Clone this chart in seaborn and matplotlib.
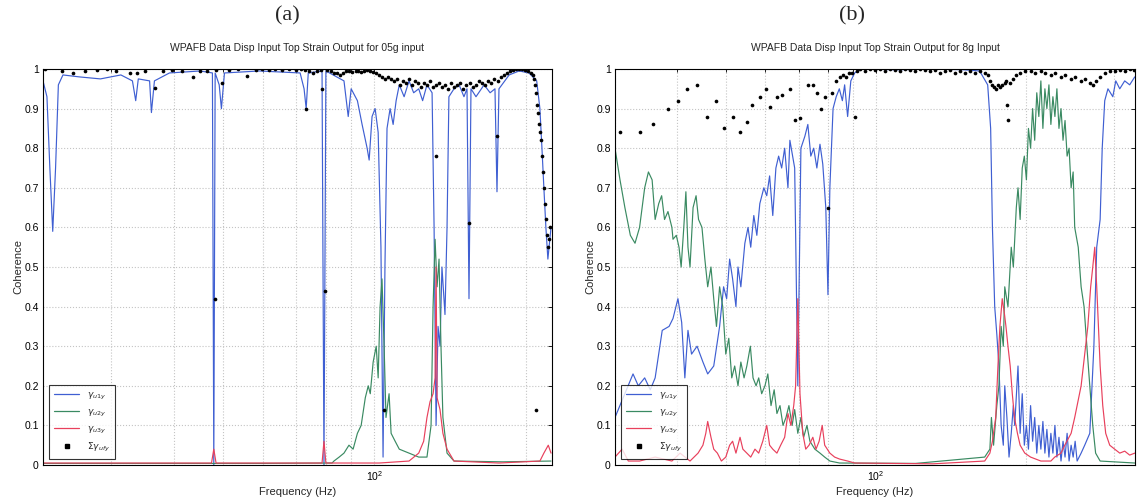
import matplotlib
matplotlib.use("Agg")
import matplotlib.pyplot as plt
from matplotlib.ticker import LogLocator, NullFormatter, FixedLocator
from matplotlib.lines import Line2D
import numpy as np
import pandas as pd
import seaborn as sns

sns.set_theme(style="white")
plt.rcParams["font.family"] = ["Liberation Sans", "DejaVu Sans"]
plt.rcParams["mathtext.fontset"] = "dejavusans"

# ---------------- panel (a): 05g input ----------------
a_u1y_f = [22.0, 22.4, 22.7, 23.0, 23.3, 23.6, 24.1, 26.0, 28.6, 31.4, 33.1, 33.6, 34.0, 35.8, 36.1,
           36.6, 39.2, 45.1, 47.7, 48.0, 48.3, 49.2, 49.7, 50.4, 59.1, 71.2, 72.5, 73.2, 73.9, 78.7,
           79.4, 80.1, 87.0, 88.7, 89.9, 92.5, 94.5, 96.7, 97.6, 98.9, 100.3, 101.7, 103.0, 104.0,
           104.9, 105.9, 107.4, 108.9, 110.4, 112.0, 114.5, 117.1, 119.6, 122.4, 124.6, 127.1, 130.1,
           131.3, 132.5, 133.7, 134.9, 136.1, 138.0, 139.3, 140.5, 143.8, 147.2, 150.5, 152.6, 154.0,
           155.4, 159.0, 165.0, 169.6, 173.4, 175.0, 176.6, 185.0, 193.6, 202.6, 209.8, 212.9, 214.9,
           216.8, 218.8, 220.8, 224.0]
a_u1y_c = [0.97, 0.93, 0.75, 0.59, 0.75, 0.96, 0.985, 0.98, 0.975, 0.985, 0.97, 0.92, 0.975, 0.97, 0.89,
           0.97, 0.99, 0.995, 0.99, 0.0, 0.99, 0.96, 0.90, 0.99, 0.995, 0.99, 0.95, 0.90, 0.99, 0.995,
           0.0, 0.995, 0.97, 0.88, 0.95, 0.92, 0.86, 0.80, 0.77, 0.88, 0.90, 0.84, 0.55, 0.02,
           0.50, 0.85, 0.90, 0.86, 0.92, 0.96, 0.93, 0.97, 0.94, 0.95, 0.92, 0.96, 0.94,
           0.60, 0.10, 0.35, 0.30, 0.50, 0.38, 0.60, 0.93, 0.95, 0.96, 0.93, 0.95, 0.42,
           0.95, 0.93, 0.96, 0.94, 0.95, 0.69, 0.95, 0.985, 0.995, 0.99, 0.97, 0.90, 0.80,
           0.70, 0.60, 0.52, 0.60]

a_u2y_f = [22.0, 60.0, 82.4, 83.1, 85.1, 87.0, 89.0, 90.7, 92.5, 94.1, 95.9, 97.2, 98.1, 99.4, 100.8,
           101.7, 102.6, 103.5, 104.5, 105.4, 106.9, 107.9, 109.9, 112.0, 117.1, 122.4, 127.1, 129.5,
           130.7, 131.9, 133.1, 134.3, 135.5, 136.7, 139.3, 143.8, 180.0, 224.0]
a_u2y_c = [0.004, 0.004, 0.005, 0.01, 0.02, 0.03, 0.05, 0.04, 0.08, 0.10, 0.17, 0.20, 0.18, 0.26, 0.30,
           0.22, 0.40, 0.47, 0.30, 0.12, 0.18, 0.08, 0.06, 0.04, 0.03, 0.02, 0.02, 0.10,
           0.40, 0.57, 0.45, 0.52, 0.30, 0.12, 0.03, 0.01, 0.008, 0.01]

a_u3y_f = [22.0, 47.5, 48.0, 48.5, 78.7, 79.4, 80.1, 102.2, 117.1, 122.4, 125.2, 127.1, 128.9, 130.7,
           131.9, 132.5, 133.1, 134.9, 136.7, 139.3, 143.8, 176.6, 212.9, 216.8, 221.2, 224.0]
a_u3y_c = [0.005, 0.005, 0.04, 0.005, 0.005, 0.06, 0.005, 0.005, 0.01, 0.03, 0.06, 0.12, 0.16, 0.18,
           0.22, 0.50, 0.17, 0.14, 0.08, 0.04, 0.01, 0.005, 0.01, 0.03, 0.05, 0.03]

a_sum_f = [22.2, 24.0, 25.2, 26.6, 28.1, 29.5, 30.7, 32.7, 33.8, 35.0, 36.7, 38.0, 39.7, 41.6, 43.7,
           45.1, 46.6, 48.3, 48.5, 49.9, 51.5, 53.6, 55.8, 58.1, 59.9, 61.7, 63.5, 65.6, 67.7, 69.8,
           71.6, 72.9, 73.2, 74.2, 75.6, 77.0, 78.4, 78.7, 79.8, 80.5, 82.0, 83.1, 84.2, 85.4, 86.7,
           88.0, 89.0, 90.3, 91.8, 92.8, 94.1, 95.4, 96.7, 98.1, 99.4, 100.8, 102.2, 103.5, 104.5,
           104.9, 106.4, 107.9, 109.4, 110.9, 112.5, 114.0, 115.6, 117.1, 118.7, 120.4, 122.0, 123.8,
           125.2, 127.1, 128.9, 130.7, 132.5, 132.5, 134.3, 136.1, 138.0, 139.9, 141.8, 143.8, 145.9,
           147.9, 149.9, 152.0, 154.0, 154.7, 156.8, 159.0, 161.2, 163.4, 165.7, 167.8, 170.3, 172.7,
           175.0, 175.8, 178.2, 180.6, 183.1, 185.6, 188.2, 190.8, 193.6, 196.2, 198.9, 201.7, 204.6,
           206.3, 207.2, 208.0, 208.9, 209.8, 210.7, 211.7, 212.6, 213.5, 214.9, 215.9, 216.8, 217.8,
           218.8, 219.8, 220.8, 221.8, 222.8, 208.9]
a_sum_c = [1.0, 0.995, 0.99, 0.995, 0.998, 1.0, 0.995, 0.99, 0.99, 0.995, 0.952, 0.995, 0.998, 0.995, 0.98,
           0.995, 0.995, 0.42, 0.998, 0.965, 0.998, 1.0, 0.982, 0.998, 1.0, 0.998, 1.0, 0.998, 1.0, 0.998,
           1.0, 0.998, 0.90, 0.995, 0.99, 0.995, 0.998, 0.95, 0.44, 0.997, 0.995, 0.99, 0.99, 0.985, 0.99,
           0.995, 0.995, 0.992, 0.995, 0.995, 0.993, 0.995, 0.997, 0.995, 0.993, 0.99, 0.985, 0.98, 0.14,
           0.975, 0.98, 0.975, 0.97, 0.975, 0.96, 0.97, 0.965, 0.975, 0.96, 0.97, 0.965, 0.955,
           0.965, 0.96, 0.97, 0.955, 0.78, 0.96, 0.965, 0.955, 0.96, 0.95, 0.965, 0.955, 0.96,
           0.965, 0.95, 0.96, 0.61, 0.965, 0.955, 0.96, 0.97, 0.965, 0.96, 0.97, 0.965, 0.975,
           0.83, 0.97, 0.98, 0.985, 0.99, 0.995, 0.998, 1.0, 1.0, 1.0, 0.998, 0.995, 0.99,
           0.985, 0.975, 0.96, 0.94, 0.91, 0.89, 0.86, 0.84, 0.82, 0.78, 0.74, 0.70, 0.66,
           0.62, 0.58, 0.55, 0.57, 0.60, 0.14]

# ---------------- panel (b): 8g input ----------------
b_u1y_f = [30.0, 31.4, 32.6, 33.4, 34.4, 35.3, 36.1, 37.3, 38.5, 39.2, 40.1, 40.8, 41.4, 42.0, 42.7,
           43.8, 45.0, 46.0, 47.3, 48.6, 49.5, 50.2, 50.9, 51.6, 52.4, 52.9, 53.6, 54.6, 55.4, 56.1,
           56.9, 57.7, 58.5, 59.6, 60.4, 61.2, 62.1, 63.0, 63.8, 64.7, 65.6, 66.6, 67.2, 68.7, 69.7,
           70.7, 72.0, 73.0, 74.0, 75.0, 76.1, 77.2, 78.2, 79.3, 80.1, 80.8, 82.0, 83.2, 84.4, 85.6,
           86.5, 87.7, 89.0, 90.6, 92.8, 110.0, 130.0, 150.0, 161.2, 167.3, 169.6, 171.0, 172.8, 174.5,
           176.2, 178.0, 179.8, 181.0, 182.8, 184.6, 186.5, 188.3, 189.5, 192.4, 194.3, 196.2, 198.1,
           200.0, 201.9, 203.9, 205.8, 207.8, 209.8, 211.8, 213.8, 215.8, 217.8, 219.8, 221.9, 223.9,
           226.0, 228.1, 230.2, 232.4, 234.6, 236.8, 239.0, 241.3, 243.5, 245.8, 248.1, 250.4, 252.7,
           257.4, 261.7, 267.9, 273.0, 276.6, 281.0, 283.7, 287.0, 291.3, 297.9, 302.0, 307.6, 314.7,
           322.0, 329.6]
b_u1y_c = [0.12, 0.18, 0.23, 0.20, 0.22, 0.19, 0.22, 0.34, 0.35, 0.37, 0.42, 0.36, 0.22, 0.34, 0.28,
           0.30, 0.26, 0.23, 0.25, 0.35, 0.45, 0.42, 0.52, 0.47, 0.40, 0.50, 0.45, 0.56, 0.60, 0.55,
           0.63, 0.58, 0.66, 0.70, 0.68, 0.73, 0.63, 0.75, 0.78, 0.75, 0.80, 0.70, 0.82, 0.75, 0.20,
           0.80, 0.83, 0.86, 0.78, 0.80, 0.75, 0.81, 0.76, 0.65, 0.43, 0.70, 0.90, 0.93, 0.95, 0.92,
           0.96, 0.88, 0.97, 0.99, 1.0, 0.998, 1.0, 0.998, 0.995, 0.96, 0.85, 0.60, 0.40, 0.33,
           0.25, 0.10, 0.05, 0.20, 0.12, 0.02, 0.08, 0.15, 0.10, 0.25, 0.08, 0.18, 0.05,
           0.10, 0.04, 0.15, 0.06, 0.12, 0.03, 0.10, 0.04, 0.11, 0.03, 0.09, 0.02, 0.08,
           0.03, 0.10, 0.02, 0.07, 0.01, 0.06, 0.02, 0.08, 0.01, 0.05, 0.02, 0.06, 0.01,
           0.03, 0.05, 0.08, 0.30, 0.55, 0.62, 0.80, 0.92, 0.95, 0.93, 0.97, 0.95, 0.97,
           0.96, 0.98]

b_u2y_f = [30.0, 30.7, 31.4, 32.2, 32.9, 33.6, 34.4, 35.0, 35.6, 36.1, 36.7, 37.2, 37.7, 38.3, 39.0,
           39.2, 39.8, 40.3, 40.7, 41.2, 41.6, 42.0, 42.4, 43.0, 43.6, 44.1, 44.8, 45.4, 46.0, 46.7,
           47.3, 47.9, 48.6, 49.3, 50.0, 50.7, 51.4, 52.1, 52.9, 53.6, 54.4, 55.1, 56.0, 56.7, 57.5,
           58.2, 59.0, 59.9, 60.7, 61.6, 62.5, 63.3, 64.2, 65.1, 66.0, 66.9, 67.9, 68.7, 69.7, 70.7,
           71.6, 72.7, 73.7, 75.4, 77.2, 78.9, 80.8, 84.5, 120.0, 165.0, 169.0, 170.2, 171.9, 174.5,
           176.2, 178.0, 179.8, 181.0, 183.7, 186.5, 188.3, 190.9, 192.4, 194.3, 196.2, 198.1, 200.0,
           201.9, 203.9, 205.8, 207.8, 209.8, 211.8, 213.8, 215.8, 217.8, 219.8, 221.9, 223.9, 226.0,
           228.1, 230.2, 232.4, 234.6, 236.8, 239.0, 241.3, 243.5, 245.8, 248.1, 249.9, 254.0, 257.4,
           260.9, 264.3, 267.9, 271.6, 275.2, 281.0, 329.6]
b_u2y_c = [0.80, 0.72, 0.65, 0.58, 0.56, 0.60, 0.70, 0.74, 0.72, 0.62, 0.66, 0.68, 0.62, 0.64, 0.60,
           0.57, 0.58, 0.55, 0.50, 0.60, 0.69, 0.55, 0.50, 0.65, 0.68, 0.62, 0.60, 0.52, 0.45, 0.50,
           0.42, 0.35, 0.45, 0.40, 0.28, 0.32, 0.22, 0.25, 0.20, 0.26, 0.22, 0.25, 0.30, 0.22, 0.20,
           0.22, 0.18, 0.20, 0.23, 0.15, 0.19, 0.13, 0.15, 0.10, 0.12, 0.15, 0.10, 0.14, 0.08, 0.12,
           0.07, 0.10, 0.06, 0.04, 0.03, 0.02, 0.01, 0.005, 0.004, 0.02, 0.04, 0.12, 0.05, 0.15,
           0.20, 0.35, 0.30, 0.45, 0.40, 0.55, 0.50, 0.65, 0.70, 0.62, 0.75, 0.78, 0.72,
           0.85, 0.80, 0.90, 0.82, 0.94, 0.88, 0.97, 0.85, 0.95, 0.90, 0.96, 0.86, 0.93,
           0.88, 0.95, 0.85, 0.90, 0.82, 0.87, 0.78, 0.80, 0.70, 0.74, 0.60, 0.55, 0.45,
           0.40, 0.30, 0.20, 0.10, 0.03, 0.01, 0.005]

b_u3y_f = [30.0, 31.0, 31.9, 33.6, 36.1, 39.0, 40.5, 42.4, 44.0, 45.0, 45.6, 46.0, 46.7, 47.3, 48.1,
           49.0, 50.0, 50.9, 51.6, 52.4, 53.4, 54.1, 55.1, 56.1, 57.2, 58.2, 59.3, 60.4, 61.2, 62.1,
           63.3, 64.4, 65.6, 66.6, 67.5, 68.4, 69.0, 69.7, 70.4, 71.3, 72.3, 73.4, 74.7, 75.8, 76.9,
           78.0, 78.9, 80.8, 82.6, 84.5, 87.7, 90.6, 130.0, 165.0, 169.0, 171.0, 173.6, 175.4, 177.0,
           178.9, 180.8, 182.0, 183.7, 185.6, 187.4, 189.3, 191.9, 194.3, 198.5, 203.9, 213.8, 223.9,
           227.9, 234.6, 238.7, 245.8, 249.9, 257.4, 261.7, 265.5, 269.0, 271.6, 274.1, 276.6, 281.0,
           284.4, 288.3, 293.7, 300.5, 307.6, 314.7, 322.0, 329.6]
b_u3y_c = [0.02, 0.04, 0.01, 0.01, 0.02, 0.01, 0.03, 0.01, 0.03, 0.05, 0.08, 0.11, 0.07, 0.04, 0.03,
           0.01, 0.02, 0.05, 0.06, 0.03, 0.07, 0.04, 0.03, 0.02, 0.04, 0.03, 0.06, 0.10, 0.05, 0.04,
           0.03, 0.05, 0.07, 0.13, 0.10, 0.15, 0.20, 0.42, 0.18, 0.08, 0.04, 0.05, 0.07, 0.04, 0.06,
           0.10, 0.05, 0.03, 0.02, 0.015, 0.01, 0.005, 0.003, 0.01, 0.03, 0.06, 0.12, 0.25, 0.35,
           0.42, 0.38, 0.35, 0.30, 0.25, 0.18, 0.12, 0.08, 0.05, 0.03, 0.02, 0.01, 0.01,
           0.02, 0.03, 0.05, 0.08, 0.12, 0.20, 0.28, 0.35, 0.45, 0.50, 0.55, 0.45, 0.25,
           0.15, 0.08, 0.05, 0.04, 0.03, 0.035, 0.025, 0.03]

b_sum_f = [30.7, 33.6, 35.8, 38.3, 40.1, 41.8, 43.8, 45.8, 47.7, 49.6, 51.6, 53.4, 55.1, 56.4, 58.5,
           60.1, 61.4, 63.3, 64.7, 67.2, 68.7, 70.4, 73.0, 74.7, 76.1, 77.5, 78.9, 80.1, 81.6, 83.0,
           84.5, 85.7, 86.9, 88.1, 89.4, 90.6, 91.5, 92.8, 94.9, 97.1, 99.4, 101.7, 104.1, 106.5,
           109.0, 111.5, 114.1, 116.8, 119.5, 122.3, 125.2, 128.1, 131.1, 134.2, 137.2, 140.5, 143.7,
           147.1, 150.5, 154.0, 157.6, 161.3, 165.0, 167.3, 169.0, 170.8, 172.0, 173.6, 175.4, 177.0,
           178.9, 180.8, 182.0, 182.8, 183.7, 185.6, 188.3, 190.9, 194.3, 198.5, 203.9, 207.8, 213.8,
           217.6, 223.9, 227.9, 234.6, 238.7, 245.8, 249.9, 257.4, 261.7, 267.9, 271.6, 275.2, 281.0,
           287.0, 293.7, 300.5, 307.6, 314.7, 322.0, 328.0]
b_sum_c = [0.84, 0.84, 0.86, 0.90, 0.92, 0.95, 0.96, 0.88, 0.92, 0.85, 0.88, 0.84, 0.865, 0.91, 0.93,
           0.95, 0.905, 0.93, 0.935, 0.95, 0.87, 0.875, 0.96, 0.96, 0.94, 0.90, 0.93, 0.65, 0.94, 0.97,
           0.98, 0.985, 0.98, 0.99, 0.99, 0.88, 0.995, 1.0, 0.995, 1.0, 0.998, 1.0, 0.995, 1.0,
           0.998, 0.995, 1.0, 0.998, 0.995, 1.0, 0.998, 0.995, 0.998, 0.99, 0.995, 0.998, 0.99,
           0.995, 0.99, 0.995, 0.99, 0.995, 0.99, 0.985, 0.97, 0.96, 0.955, 0.95, 0.96, 0.955,
           0.96, 0.965, 0.97, 0.91, 0.87, 0.965, 0.975, 0.985, 0.99, 0.995, 0.995, 0.99, 0.995,
           0.99, 0.985, 0.99, 0.98, 0.985, 0.975, 0.98, 0.97, 0.975, 0.965, 0.96, 0.97, 0.98,
           0.99, 0.995, 0.995, 0.998, 0.995, 1.0, 0.998]

series_labels = [r"$\gamma_{u1y}$", r"$\gamma_{u2y}$", r"$\gamma_{u3y}$", r"$\Sigma\gamma_{ufy}$"]
series_colors = ["#3f5fd2", "#3a8a62", "#e8405c"]

panels = [
    dict(curves=[(a_u1y_f, a_u1y_c), (a_u2y_f, a_u2y_c), (a_u3y_f, a_u3y_c)],
         dots=(a_sum_f, a_sum_c), xlim=(22, 225),
         title="WPAFB Data Disp Input Top Strain Output for 05g input",
         rect=[43 / 1138, 35 / 500, 509 / 1138, 396 / 500], tag="(a)", tag_x=287 / 1138),
    dict(curves=[(b_u1y_f, b_u1y_c), (b_u2y_f, b_u2y_c), (b_u3y_f, b_u3y_c)],
         dots=(b_sum_f, b_sum_c), xlim=(30, 330),
         title="WPAFB Data Disp Input Top Strain Output for 8g Input",
         rect=[615 / 1138, 35 / 500, 520 / 1138, 396 / 500], tag="(b)", tag_x=852 / 1138),
]

fig = plt.figure(figsize=(11.38, 5.0), dpi=100)
fig.patch.set_facecolor("white")

for p in panels:
    ax = fig.add_axes(p["rect"])
    ax.set_xscale("log")
    for (f, c), col in zip(p["curves"], series_colors):
        df = pd.DataFrame({"freq": f, "coh": c})
        sns.lineplot(data=df, x="freq", y="coh", ax=ax, color=col, lw=0.85,
                     sort=False, estimator=None, legend=False)
    dots = pd.DataFrame({"freq": p["dots"][0], "coh": p["dots"][1]})
    sns.scatterplot(data=dots, x="freq", y="coh", ax=ax, color="black", s=7,
                    linewidth=0, legend=False, zorder=5)

    ax.set_xlim(*p["xlim"])
    ax.set_ylim(0, 1)
    ax.yaxis.set_major_locator(FixedLocator(np.round(np.arange(0, 1.01, 0.1), 1)))
    ax.set_yticklabels(["0", "0.1", "0.2", "0.3", "0.4", "0.5", "0.6", "0.7", "0.8", "0.9", "1"])
    ax.xaxis.set_major_locator(LogLocator(base=10, numticks=10))
    ax.xaxis.set_minor_locator(LogLocator(base=10, subs=np.arange(2, 10), numticks=20))
    ax.xaxis.set_minor_formatter(NullFormatter())
    ax.grid(True, which="major", axis="both", color="#c4c4c4", ls=":", lw=0.8)
    ax.grid(True, which="minor", axis="x", color="#c4c4c4", ls=":", lw=0.8)
    ax.tick_params(axis="both", which="both", direction="in", top=True, right=True,
                   labelsize=7.5, colors="black", length=3, width=0.6, pad=3)
    ax.tick_params(axis="x", which="minor", length=2)
    for sp in ax.spines.values():
        sp.set_color("black")
        sp.set_linewidth(0.8)
    ax.set_facecolor("white")
    ax.set_xlabel("Frequency (Hz)", fontsize=8, labelpad=3)
    ax.set_ylabel("Coherence", fontsize=8, labelpad=1)
    ax.set_title(p["title"], fontsize=7.5, pad=13)

    handles = [Line2D([], [], color=c, lw=0.9) for c in series_colors]
    handles.append(Line2D([], [], color="black", marker="s", ms=2.5, lw=0))
    leg = ax.legend(handles, series_labels, loc="lower left", bbox_to_anchor=(0.012, 0.015),
                    borderaxespad=0, fontsize=6.5, frameon=True, fancybox=False,
                    handlelength=2.8, handletextpad=0.8, labelspacing=0.6, borderpad=0.55)
    leg.get_frame().set_edgecolor("black")
    leg.get_frame().set_linewidth(0.8)
    leg.set_zorder(10)

    fig.text(p["tag_x"], 1 - 16 / 500, p["tag"], fontsize=16, family="Liberation Serif",
             ha="center", va="center")

fig.savefig("out.png", dpi=100, facecolor="white")
